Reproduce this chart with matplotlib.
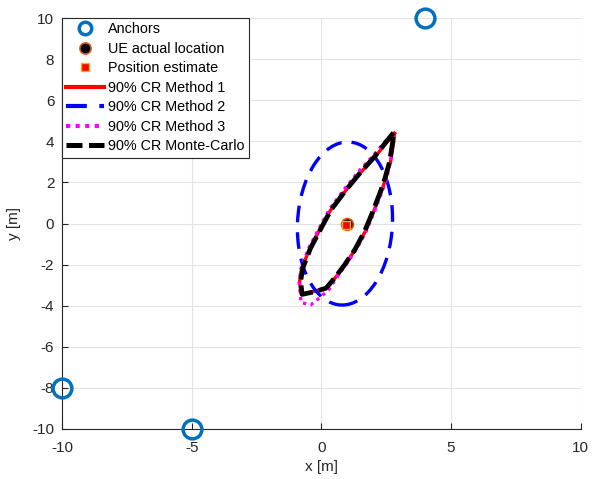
import matplotlib
matplotlib.use("Agg")
import matplotlib.pyplot as plt
from matplotlib.patches import Ellipse
from matplotlib.lines import Line2D

plt.rcParams['font.family'] = ['Liberation Sans', 'DejaVu Sans']
plt.rcParams['axes.unicode_minus'] = False

# anchors and UE
anchor_x = [4, -10, -5]
anchor_y = [10, -8, -10]
ue_xy = (1.0, 0.0)
est_xy = (0.95, -0.05)

# 90% CR Monte-Carlo contour
mc_x = [2.78, 2.50, 2.05, 1.53, 1.00, 0.37, -0.01, -0.42, -0.72, -0.80, -0.74,
        -0.27, 0.18, 0.50, 0.89, 1.30, 1.66, 1.98, 2.30, 2.45, 2.63, 2.75, 2.78]
mc_y = [4.42, 3.98, 3.25, 2.52, 1.71, 0.66, -0.23, -1.21, -2.18, -2.83, -3.45,
        -3.32, -3.15, -2.67, -2.02, -1.25, -0.40, 0.57, 1.63, 2.20, 3.01, 3.98, 4.42]

# method 1
m1_x = [2.82, 2.53, 2.06, 1.52, 0.98, 0.34, -0.05, -0.46, -0.76, -0.84, -0.78,
        -0.27, 0.20, 0.53, 0.92, 1.33, 1.70, 2.02, 2.34, 2.49, 2.67, 2.79, 2.82]
m1_y = [4.38, 3.96, 3.23, 2.49, 1.67, 0.62, -0.27, -1.25, -2.20, -2.85, -3.43,
        -3.30, -3.12, -2.65, -1.99, -1.22, -0.37, 0.60, 1.65, 2.22, 3.03, 3.97, 4.38]

# method 3
m3_x = [2.76, 2.45, 1.98, 1.45, 0.93, 0.31, -0.07, -0.48, -0.78, -0.86, -0.78,
        -0.40, -0.05, 0.30, 0.55, 0.93, 1.35, 1.72, 2.04, 2.36, 2.52, 2.69, 2.76]
m3_y = [4.25, 3.98, 3.27, 2.55, 1.74, 0.69, -0.20, -1.18, -2.16, -2.85, -3.85,
        -3.95, -3.60, -3.20, -2.70, -2.04, -1.26, -0.40, 0.57, 1.63, 2.20, 3.20, 4.25]

# method 2 ellipse: center, width, height, angle
m2_center = (0.91, 0.0)
m2_width = 3.66
m2_height = 7.94
m2_angle = -2.0

blue = '#0072BD'
orange = '#D95319'
yellow = '#EDB120'
dark = '#262626'

fig = plt.figure(figsize=(5.92, 4.79), dpi=100)
ax = fig.add_axes([0.1047, 0.1044, 0.8763, 0.858])

ax.plot(anchor_x, anchor_y, 'o', mfc='none', mec=blue, mew=2.5, ms=13.5,
        clip_on=False, zorder=5)
ax.plot(*ue_xy, 'o', mfc='black', mec=orange, mew=1.2, ms=8.5, zorder=5)
ax.plot(*est_xy, 's', mfc='red', mec=yellow, mew=1.0, ms=6, zorder=6)

ax.plot(m1_x, m1_y, '-', color='red', lw=2.4, zorder=3)
ell = Ellipse(m2_center, m2_width, m2_height, angle=m2_angle, fill=False,
              edgecolor='blue', lw=2.4, linestyle=(0, (5, 3)), zorder=3)
ax.add_patch(ell)
ax.plot(m3_x, m3_y, color='magenta', lw=2.4, linestyle=(0, (1, 1.3)), zorder=3)
ax.plot(mc_x, mc_y, color='black', lw=3.4, linestyle=(0, (4.2, 1.3)), zorder=4)

ax.set_xlim(-10, 10)
ax.set_ylim(-10, 10)
ax.set_xticks([-10, -5, 0, 5, 10])
ax.set_yticks(range(-10, 11, 2))
ax.grid(True, color='#e3e3e3', lw=0.8)
ax.set_axisbelow(True)
for s in ['top', 'right']:
    ax.spines[s].set_visible(False)
for s in ['left', 'bottom']:
    ax.spines[s].set_color(dark)
ax.tick_params(direction='in', labelsize=11, colors=dark, length=4)
ax.tick_params(axis='x', pad=9)
ax.tick_params(axis='y', pad=5.5)
ax.set_xlabel('x [m]', fontsize=11, color=dark, labelpad=3)
ax.set_ylabel('y [m]', fontsize=11, color=dark, labelpad=8)

handles = [
    Line2D([], [], ls='none', marker='o', mfc='none', mec=blue, mew=2.5, ms=9),
    Line2D([], [], ls='none', marker='o', mfc='black', mec=orange, mew=1.2, ms=8),
    Line2D([], [], ls='none', marker='s', mfc='red', mec=yellow, mew=1.0, ms=6),
    Line2D([], [], color='red', lw=3),
    Line2D([], [], color='blue', lw=3, ls=(0, (5, 3))),
    Line2D([], [], color='magenta', lw=3, ls=(0, (1, 1.3))),
    Line2D([], [], color='black', lw=3.6, ls=(0, (3.2, 1.3))),
]
labels = ['Anchors', 'UE actual location', 'Position estimate', '90% CR Method 1',
          '90% CR Method 2', '90% CR Method 3', '90% CR Monte-Carlo']
leg = ax.legend(handles, labels, loc='upper left', bbox_to_anchor=(0, 1),
                borderaxespad=0, fontsize=10.4, fancybox=False, framealpha=1,
                edgecolor=dark, handlelength=2.6, handletextpad=0.3,
                labelspacing=0.38, borderpad=0.3)
leg.get_frame().set_linewidth(0.8)
leg.set_zorder(10)

fig.savefig('out.png', dpi=100)
